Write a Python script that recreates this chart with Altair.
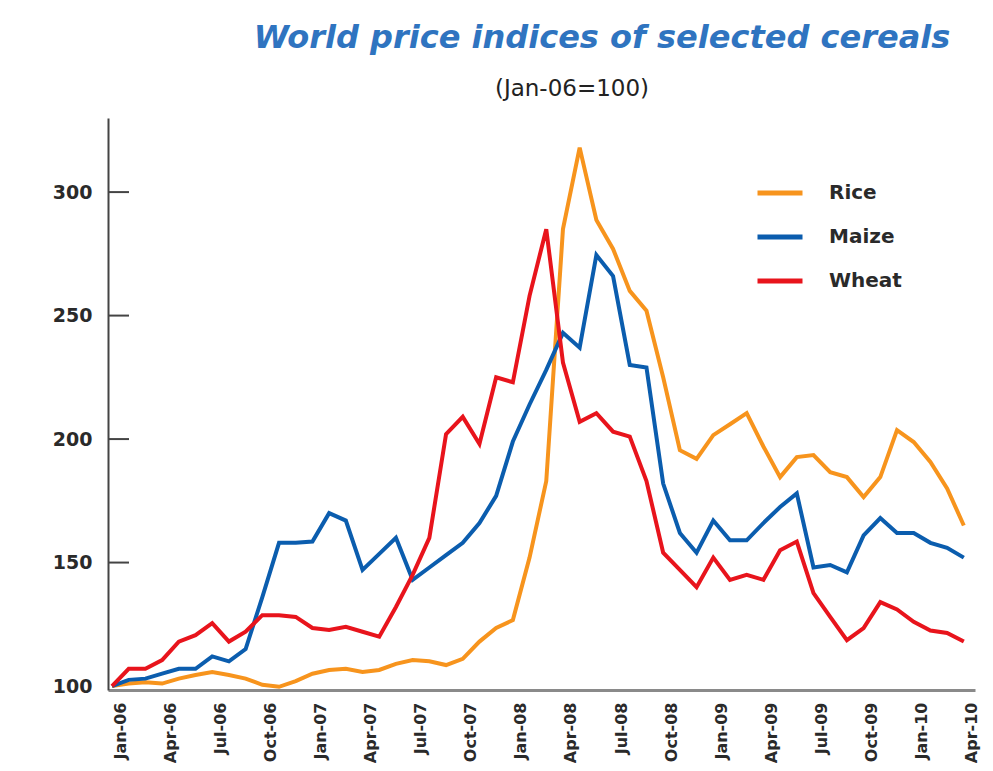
import altair as alt
import pandas as pd

title_text = "World price indices of selected cereals"
subtitle_text = "(Jan-06=100)"

tick_labels = ["Jan-06", "Apr-06", "Jul-06", "Oct-06", "Jan-07", "Apr-07", "Jul-07",
               "Oct-07", "Jan-08", "Apr-08", "Jul-08", "Oct-08", "Jan-09", "Apr-09",
               "Jul-09", "Oct-09", "Jan-10", "Apr-10"]
series_names = ["Rice", "Maize", "Wheat"]
series_colors = ["#F7941D", "#0B5DAE", "#E8141C"]
y_ticks = [100, 150, 200, 250, 300]

rice = [100, 101, 101.5, 101, 103, 104.5, 105.7, 104.5, 103, 100.5, 99.7, 102,
        105, 106.5, 107, 105.7, 106.5, 109, 110.5, 110, 108.5, 111, 118, 123.5,
        126.7, 152, 183, 285, 318, 288.7, 277, 260, 252, 225, 195.5, 192,
        201.6, 206, 210.5, 197, 184.6, 192.7, 193.5, 186.6, 184.6, 176.5, 184.6, 203.6,
        198.8, 190.7, 180, 165]
maize = [100, 102.5, 103, 105, 107, 107, 112, 110, 115, 136, 158, 158,
         158.5, 170, 167, 147, 153.5, 160, 143, 148, 153, 158, 166, 177,
         199, 214, 228, 243, 237, 274.5, 266, 230, 229, 182, 162, 154,
         167, 159, 159, 166, 172.5, 178, 148, 149, 146, 161, 168, 162,
         162, 158, 156, 152]
wheat = [100, 107, 107, 110.5, 118, 120.6, 125.5, 118, 122, 128.7, 128.7, 128,
         123.5, 122.7, 124, 122, 120, 132, 145, 160, 202, 209, 198, 225,
         223, 258, 285, 231, 207, 210.5, 203, 201, 183, 154, 147, 140,
         152, 143, 145, 143, 155, 158.5, 137.6, 128, 118.6, 123.5, 134, 131,
         126, 122.5, 121.5, 118]

rows = []
for name, vals in zip(series_names, [rice, maize, wheat]):
    for i, v in enumerate(vals):
        rows.append({"month": i, "series": name, "value": v})
df = pd.DataFrame(rows)

label_js = "[" + ",".join("'%s'" % t for t in tick_labels) + "]"

xscale = alt.Scale(domain=[-0.24, 51.67], nice=False, zero=False)
yscale = alt.Scale(domain=[98.4, 330], nice=False, zero=False)

y_axis = alt.Axis(values=y_ticks, ticks=False, grid=False, title=None,
                  domainColor="#444444", domainWidth=2,
                  labelFont="DejaVu Sans", labelFontSize=19, labelFontWeight="bold",
                  labelColor="#2a2a2a", labelPadding=16)

lines = alt.Chart(df).mark_line(strokeWidth=4).encode(
    x=alt.X("month:Q", scale=xscale,
            axis=alt.Axis(values=list(range(0, 52, 3)),
                          labelExpr=label_js + "[round(datum.value/3)]",
                          labelAngle=-90, title=None, grid=False, ticks=False,
                          domainColor="#8a8a8a", domainWidth=3,
                          labelFont="DejaVu Sans", labelFontSize=16,
                          labelFontWeight="bold", labelColor="#2a2a2a",
                          labelPadding=12, labelOffset=8)),
    y=alt.Y("value:Q", scale=yscale, axis=y_axis),
    color=alt.Color("series:N",
                    scale=alt.Scale(domain=series_names, range=series_colors),
                    legend=alt.Legend(orient="none", legendX=647, legendY=50,
                                      title=None, symbolType="stroke",
                                      symbolSize=2025, symbolStrokeWidth=5,
                                      labelFont="DejaVu Sans", labelFontSize=20,
                                      labelFontWeight="bold",
                                      labelColor="#2a2a2a", labelOffset=24,
                                      rowPadding=9, padding=0)),
    order=alt.Order("month:Q"),
)

ticks_df = pd.DataFrame({"value": y_ticks[1:]})
inner_ticks = alt.Chart(ticks_df).mark_rule(color="#444444", strokeWidth=2).encode(
    y=alt.Y("value:Q", scale=yscale, axis=y_axis),
    x=alt.value(0), x2=alt.value(21),
)

ttl = alt.Chart(pd.DataFrame({"t": [title_text]})).mark_text(
    font="DejaVu Sans", fontSize=32, fontStyle="italic", fontWeight="bold",
    color="#2F74C0", baseline="alphabetic", align="center"
).encode(text="t:N", x=alt.value(494), y=alt.value(-70))

sub = alt.Chart(pd.DataFrame({"t": [subtitle_text]})).mark_text(
    font="DejaVu Sans", fontSize=23, color="#222222", baseline="middle", align="center"
).encode(text="t:N", x=alt.value(464), y=alt.value(-29))

chart = alt.layer(inner_ticks, lines, ttl, sub).properties(
    width=867, height=572,
    background="white",
    autosize=alt.AutoSizeParams(type="none"),
    padding={"left": 100, "top": 110, "right": 10, "bottom": 73},
).configure_view(stroke=None)

chart.save("out.html", embed_options={"renderer": "svg", "actions": False})
